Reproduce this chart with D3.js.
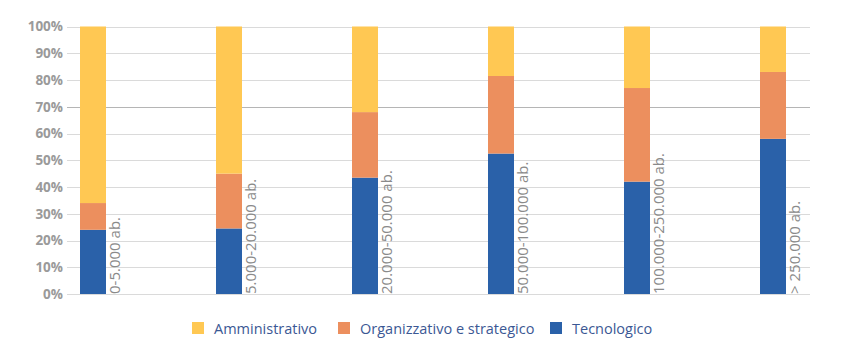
<!DOCTYPE html>
<html>
<head>
<meta charset="utf-8">
<script src="https://cdn.jsdelivr.net/npm/d3@7"></script>
<style>
  body { margin: 0; background: #fff; }
  text { font-family: "Open Sans", sans-serif; }
</style>
</head>
<body>
<div id="chart"></div>
<script>
// categories and values (share of total, %)
var categories = ["0-5.000 ab.", "5.000-20.000 ab.", "20.000-50.000 ab.", "50.000-100.000 ab.", "100.000-250.000 ab.", "> 250.000 ab."];
var tecnologico = [24, 24.5, 43.5, 52.5, 42, 58];
var organizzativo = [10, 20.5, 24.5, 29, 35, 25];
var amministrativo = [66, 55, 32, 18.5, 23, 17];
var seriesNames = ["Tecnologico", "Organizzativo e strategico", "Amministrativo"];
var yTicks = [0, 10, 20, 30, 40, 50, 60, 70, 80, 90, 100];
var legendOrder = ["Amministrativo", "Organizzativo e strategico", "Tecnologico"];

var colors = {
  "Amministrativo": "#ffc853",
  "Organizzativo e strategico": "#ec8f5e",
  "Tecnologico": "#2a61a9"
};

var svgWidth = 852, svgHeight = 363;
var svg = d3.select("#chart").append("svg")
  .attr("width", svgWidth)
  .attr("height", svgHeight);

// build rows for the stack
var rows = categories.map(function(c, i) {
  return {
    cat: c,
    "Tecnologico": tecnologico[i],
    "Organizzativo e strategico": organizzativo[i],
    "Amministrativo": amministrativo[i]
  };
});
var stacked = d3.stack().keys(seriesNames)(rows);

// scales
var x = d3.scaleBand().domain(categories).range([67, 67 + 136 * 6]);
var y = d3.scaleLinear().domain([0, 100]).range([294, 26.5]);
var barW = 26;
var gridRight = 810;

// gridlines
svg.append("g").selectAll("line")
  .data(yTicks)
  .enter()
  .append("line")
  .attr("x1", 67)
  .attr("x2", gridRight)
  .attr("y1", d => Math.round(y(d)) + 0.5)
  .attr("y2", d => Math.round(y(d)) + 0.5)
  .attr("stroke", d => d === 70 ? "#b5b5b5" : "#dadada")
  .attr("stroke-width", 1);

// y axis labels
var leftAxis = d3.axisLeft(y).tickValues(yTicks).tickFormat(d => d + "%").tickSize(0).tickPadding(0);
var yAxis = svg.append("g")
  .attr("transform", "translate(63,0)")
  .call(leftAxis);
yAxis.select(".domain").remove();
yAxis.selectAll("text")
  .attr("fill", "#9a9a9a")
  .attr("font-size", "13.5px")
  .attr("font-weight", "700")
  .style("font-family", "'Open Sans', sans-serif");

// bars
svg.append("g").selectAll("g")
  .data(stacked)
  .enter()
  .append("g")
  .attr("fill", d => colors[d.key])
  .selectAll("rect")
  .data(d => d)
  .enter()
  .append("rect")
  .attr("x", d => x(d.data.cat) + 13)
  .attr("width", barW)
  .attr("y", d => y(d[1]))
  .attr("height", d => y(d[0]) - y(d[1]));

// rotated category labels
svg.append("g").selectAll("text")
  .data(categories)
  .enter()
  .append("text")
  .attr("transform", d => `translate(${x(d) + 13 + barW + 14}, 294) rotate(-90)`)
  .attr("fill", "#8a8a8a")
  .attr("font-size", "15px")
  .text(d => d);

// legend
var legendX = [192, 338, 550];
var legend = svg.append("g").selectAll("g")
  .data(legendOrder)
  .enter()
  .append("g")
  .attr("transform", (d, i) => `translate(${legendX[i]}, 322)`);
legend.append("rect")
  .attr("width", 12)
  .attr("height", 12)
  .attr("fill", d => colors[d]);
legend.append("text")
  .attr("x", 22)
  .attr("y", 11.5)
  .attr("fill", "#3b5894")
  .attr("font-size", "14.5px")
  .text(d => d);
</script>
</body>
</html>
